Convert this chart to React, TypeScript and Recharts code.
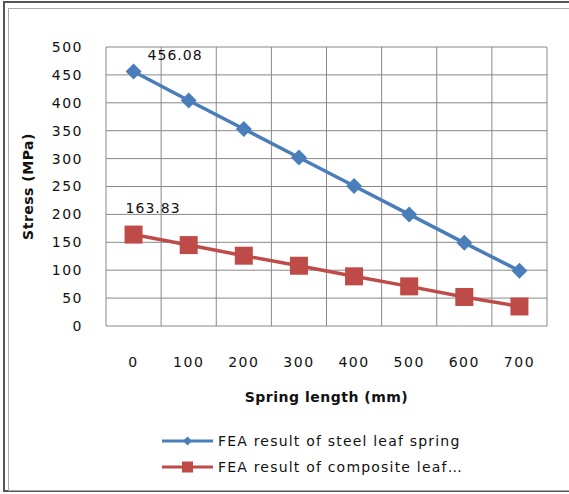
import { LineChart, Line, XAxis, YAxis, CartesianGrid, LabelList, Label } from "recharts"

const lengths = [0, 100, 200, 300, 400, 500, 600, 700]
const steelStress = [456.08, 404, 353, 302, 251, 200, 149, 99]
const compositeStress = [163.83, 145, 126, 108, 89, 71, 52, 35]
const yTicks = [0, 50, 100, 150, 200, 250, 300, 350, 400, 450, 500]
const xGrid = [-50, 50, 150, 250, 350, 450, 550, 650, 750]
const seriesNames = ["FEA result of steel leaf spring", "FEA result of composite leaf…"]

const data = lengths.map((l, i) => ({
  length: l,
  steel: steelStress[i],
  composite: compositeStress[i],
}))

const BLUE = "#4a7ebb"
const RED = "#be4b48"
const FONT = "'DejaVu Sans', Verdana, sans-serif"

function Diamond({ cx, cy, r = 8, fill }: any) {
  if (cx == null || cy == null) return null
  return <path d={`M${cx},${cy - r}L${cx + r},${cy}L${cx},${cy + r}L${cx - r},${cy}Z`} fill={fill} />
}

function Square({ cx, cy, r = 9, fill }: any) {
  if (cx == null || cy == null) return null
  return <rect x={cx - r} y={cy - r} width={r * 2} height={r * 2} fill={fill} />
}

const firstLabel = (dx: number, dy: number) => (p: any) => {
  if (p.index !== 0) return null
  return (
    <text x={p.x + dx} y={p.y + dy} fontSize={14} fontFamily={FONT} fill="#111" letterSpacing={1}>
      {p.value}
    </text>
  )
}

export default function App() {
  return (
    <div style={{ position: "absolute", left: 0, top: 0, width: 569, height: 494, overflow: "hidden", background: "#fff" }}>
      <div style={{ position: "absolute", left: 3, top: 1, width: 600, height: 491, border: "2px solid #555", boxSizing: "border-box" }} />
      <div style={{ position: "absolute", left: 8, top: 8, width: 600, height: 483, border: "1px solid #aaa", boxSizing: "border-box" }} />
      <div style={{ position: "absolute", left: 0, top: 0 }}>
        <LineChart width={569} height={494} data={data} margin={{ top: 47, right: 22, left: 10, bottom: 88 }}>
          <CartesianGrid stroke="#888" strokeWidth={1} horizontalValues={yTicks} verticalValues={xGrid} />
          <XAxis
            dataKey="length"
            type="number"
            domain={[-50, 750]}
            ticks={lengths}
            axisLine={false}
            tickLine={false}
            tickSize={0}
            tickMargin={31}
            height={80}
            tick={{ fontSize: 14, fill: "#111", fontFamily: FONT, letterSpacing: 1.5 }}
          >
            <Label
              content={({ viewBox }: any) => (
                <text
                  x={viewBox.x + viewBox.width / 2}
                  y={viewBox.y + 76}
                  textAnchor="middle"
                  fontSize={14}
                  fontWeight="bold"
                  fontFamily={FONT}
                  letterSpacing={0.5}
                  fill="#111"
                >
                  Spring length (mm)
                </text>
              )}
            />
          </XAxis>
          <YAxis
            type="number"
            domain={[0, 500]}
            ticks={yTicks}
            axisLine={false}
            tickLine={false}
            tickSize={0}
            tickMargin={23}
            width={96}
            tick={{ fontSize: 14, fill: "#111", fontFamily: FONT, letterSpacing: 1.5 }}
          >
            <Label
              content={({ viewBox }: any) => {
                const x = viewBox.x + 23
                const y = viewBox.y + viewBox.height / 2
                return (
                  <text
                    x={x}
                    y={y}
                    transform={`rotate(-90 ${x} ${y})`}
                    textAnchor="middle"
                    fontSize={14}
                    fontWeight="bold"
                    fontFamily={FONT}
                    letterSpacing={0.5}
                    fill="#111"
                  >
                    Stress (MPa)
                  </text>
                )
              }}
            />
          </YAxis>
          <Line
            dataKey="steel"
            name={seriesNames[0]}
            stroke={BLUE}
            strokeWidth={3.5}
            isAnimationActive={false}
            dot={(p: any) => <Diamond key={p.index} cx={p.cx} cy={p.cy} fill={BLUE} />}
            activeDot={false}
          >
            <LabelList dataKey="steel" content={firstLabel(14, -12)} />
          </Line>
          <Line
            dataKey="composite"
            name={seriesNames[1]}
            stroke={RED}
            strokeWidth={3.5}
            isAnimationActive={false}
            dot={(p: any) => <Square key={p.index} cx={p.cx} cy={p.cy} fill={RED} />}
            activeDot={false}
          >
            <LabelList dataKey="composite" content={firstLabel(-8, -22)} />
          </Line>
        </LineChart>
      </div>
      <div style={{ position: "absolute", left: 162, top: 428, fontFamily: FONT, fontSize: 14, color: "#111" }}>
        {seriesNames.map((name, i) => (
          <div key={name} style={{ display: "flex", alignItems: "center", height: 26 }}>
            <svg width={51} height={18} style={{ marginRight: 5 }}>
              <line x1={0} y1={9} x2={51} y2={9} stroke={i === 0 ? BLUE : RED} strokeWidth={3} />
              {i === 0 ? <Diamond cx={25.5} cy={9} r={4.5} fill={BLUE} /> : <Square cx={25.5} cy={9} r={5.5} fill={RED} />}
            </svg>
            <span style={{ letterSpacing: 1.2, whiteSpace: "nowrap" }}>{name}</span>
          </div>
        ))}
      </div>
    </div>
  )
}
